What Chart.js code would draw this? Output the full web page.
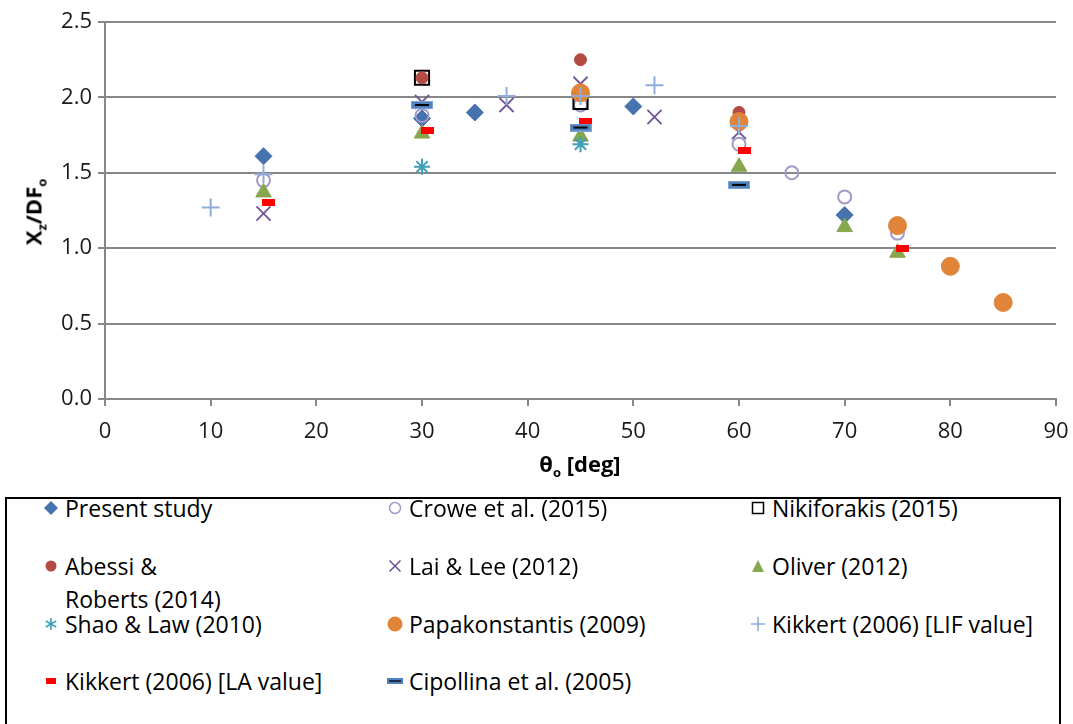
<!DOCTYPE html>
<html>
<head>
<meta charset="utf-8">
<script src="https://cdn.jsdelivr.net/npm/chart.js@4.4.1/dist/chart.umd.min.js"></script>
<style>
  body { margin: 0; background: #fff; font-family: "Open Sans", sans-serif; color: #000; }
  #wrap { position: relative; width: 1073px; height: 724px; overflow: hidden; }
  #grafica { position: absolute; left: 0; top: 0; }
  .titulo { position: absolute; font-weight: bold; font-size: 22px; white-space: nowrap; line-height: 1; }
  .titulo sub { font-size: 13px; vertical-align: -5px; }
  #tituloY { left: 35px; top: 212px; transform: translate(-50%, -50%) rotate(-90deg); }
  #tituloX { left: 580px; top: 465px; transform: translate(-50%, -50%); }
  #leyenda { position: absolute; left: 5px; top: 497px; width: 1056px; height: 260px; border: 2px solid #000; box-sizing: border-box; }
  .item { position: absolute; font-size: 23px; line-height: 33px; white-space: nowrap; }
  .item svg { position: absolute; top: 8px; }
</style>
</head>
<body>
<div id="wrap">
  <canvas id="grafica" width="1073" height="490"></canvas>
  <div class="titulo" id="tituloY">X<sub>z</sub>/DF<sub>o</sub></div>
  <div class="titulo" id="tituloX">θ<sub>o</sub> [deg]</div>
  <div id="leyenda"></div>
</div>
<script>
// Datos: ángulo θo [deg] y distancia adimensional Xz/DFo por estudio
const presentTheta = [15, 30, 35, 50, 60, 70];
const presentRatio = [1.61, 1.86, 1.90, 1.94, 1.84, 1.22];

const croweTheta = [15, 30, 45, 60, 65, 70, 75];
const croweRatio = [1.45, 1.88, 1.95, 1.69, 1.50, 1.34, 1.10];

const nikiTheta = [30, 45];
const nikiRatio = [2.13, 1.97];

const abessiTheta = [30, 45, 60];
const abessiRatio = [2.13, 2.25, 1.90];

const laiTheta = [15, 30, 38, 45, 52, 60];
const laiRatio = [1.23, 1.97, 1.95, 2.09, 1.87, 1.77];

const oliverTheta = [15, 30, 45, 60, 70, 75];
const oliverRatio = [1.37, 1.76, 1.74, 1.54, 1.14, 0.97];

const shaoTheta = [30, 45];
const shaoRatio = [1.54, 1.69];

const papaTheta = [45, 60, 75, 80, 85];
const papaRatio = [2.03, 1.84, 1.15, 0.88, 0.64];

const lifTheta = [10, 15, 38, 45, 52, 60];
const lifRatio = [1.27, 1.49, 2.01, 2.01, 2.08, 1.81];

const laTheta = [15.5, 30.5, 45.5, 60.5, 75.5];
const laRatio = [1.30, 1.78, 1.84, 1.65, 1.00];

const cipoTheta = [30, 45, 60];
const cipoRatio = [1.95, 1.80, 1.42];

const xTicks = [0, 10, 20, 30, 40, 50, 60, 70, 80, 90];
const yTicks = [0.0, 0.5, 1.0, 1.5, 2.0, 2.5];

// Marcadores tipo barra (no existen en Chart.js), dibujados en un canvas pequeño
function barraRoja() {
  const c = document.createElement('canvas');
  c.width = 13; c.height = 7;
  const g = c.getContext('2d');
  g.fillStyle = '#ff0000';
  g.fillRect(0, 0, 13, 7);
  return c;
}
function barraAzul() {
  const c = document.createElement('canvas');
  c.width = 22; c.height = 8;
  const g = c.getContext('2d');
  g.fillStyle = '#4f81bd';
  g.fillRect(0, 0, 22, 8);
  g.strokeStyle = '#7fa3d3';
  g.lineWidth = 1;
  g.strokeRect(0.5, 0.5, 21, 7);
  g.fillStyle = '#000';
  g.fillRect(4, 3, 14, 2);
  return c;
}

const pares = (xs, ys) => xs.map((x, i) => ({x: x, y: ys[i]}));

const series = [
  {label: 'Present study', data: pares(presentTheta, presentRatio), pointStyle: 'rectRot', pointRadius: 8.5,
   backgroundColor: '#4673ae', borderColor: '#4673ae', borderWidth: 1},
  {label: 'Crowe et al. (2015)', data: pares(croweTheta, croweRatio), pointStyle: 'circle', pointRadius: 6.5,
   backgroundColor: 'rgba(0,0,0,0)', borderColor: '#a399c9', borderWidth: 2},
  {label: 'Nikiforakis (2015)', data: pares(nikiTheta, nikiRatio), pointStyle: 'rect', pointRadius: 10,
   backgroundColor: 'rgba(0,0,0,0)', borderColor: '#000', borderWidth: 2},
  {label: 'Abessi & Roberts (2014)', data: pares(abessiTheta, abessiRatio), pointStyle: 'circle', pointRadius: 6,
   backgroundColor: '#b34a44', borderColor: '#b34a44', borderWidth: 1},
  {label: 'Lai & Lee (2012)', data: pares(laiTheta, laiRatio), pointStyle: 'crossRot', pointRadius: 10,
   backgroundColor: '#6f5597', borderColor: '#6f5597', borderWidth: 1.8},
  {label: 'Oliver (2012)', data: pares(oliverTheta, oliverRatio), pointStyle: 'triangle', pointRadius: 9,
   backgroundColor: '#87a74d', borderColor: '#87a74d', borderWidth: 1},
  {label: 'Shao & Law (2010)', data: pares(shaoTheta, shaoRatio), pointStyle: 'star', pointRadius: 8,
   backgroundColor: '#3fa0b8', borderColor: '#3fa0b8', borderWidth: 2},
  {label: 'Papakonstantis (2009)', data: pares(papaTheta, papaRatio), pointStyle: 'circle', pointRadius: 9,
   backgroundColor: '#df8438', borderColor: '#df8438', borderWidth: 1},
  {label: 'Kikkert (2006) [LIF value]', data: pares(lifTheta, lifRatio), pointStyle: 'cross', pointRadius: 9,
   backgroundColor: '#8eaddb', borderColor: '#8eaddb', borderWidth: 2},
  {label: 'Kikkert (2006) [LA value]', data: pares(laTheta, laRatio), pointStyle: barraRoja(), pointRadius: 7,
   backgroundColor: '#ff0000', borderColor: '#ff0000', borderWidth: 0},
  {label: 'Cipollina et al. (2005)', data: pares(cipoTheta, cipoRatio), pointStyle: barraAzul(), pointRadius: 8,
   backgroundColor: '#4f81bd', borderColor: '#4f81bd', borderWidth: 0}
];

// Las series posteriores se dibujan encima
series.forEach((s, i) => { s.order = series.length - i; s.showLine = false; s.pointHoverRadius = s.pointRadius; });

const fuenteEje = {family: 'Open Sans', size: 22};
const gris = '#878787';

const ctx = document.getElementById('grafica').getContext('2d');
new Chart(ctx, {
  type: 'scatter',
  data: {datasets: series},
  options: {
    responsive: false,
    animation: false,
    layout: {padding: {left: 5, right: 17, top: 22, bottom: 0}},
    plugins: {legend: {display: false}, tooltip: {enabled: false}},
    scales: {
      x: {
        type: 'linear', min: 0, max: 90,
        afterBuildTicks: s => { s.ticks = xTicks.map(v => ({value: v})); },
        // alto fijo y sin relleno extra por las etiquetas de los extremos
        afterFit: s => { s.height = 91; s.paddingLeft = 0; s.paddingRight = 0; },
        ticks: {font: fuenteEje, color: '#1a1a1a', padding: 13, callback: v => String(v)},
        grid: {drawOnChartArea: false, tickLength: 7, color: gris, lineWidth: 2},
        border: {color: gris, width: 2}
      },
      y: {
        min: 0, max: 2.5,
        afterBuildTicks: s => { s.ticks = yTicks.map(v => ({value: v})); },
        afterFit: s => { s.width = 100; s.paddingTop = 0; s.paddingBottom = 0; },
        ticks: {font: fuenteEje, color: '#1a1a1a', padding: 6, callback: v => v.toFixed(1)},
        grid: {color: gris, lineWidth: 2, tickLength: 7},
        border: {color: gris, width: 2}
      }
    }
  }
});

// Leyenda en tres columnas
const iconos = [
  '<polygon points="8,1 15,8 8,15 1,8" fill="#4673ae"/>',
  '<circle cx="8" cy="8" r="5.5" fill="none" stroke="#a399c9" stroke-width="1.5"/>',
  '<rect x="2.5" y="2.5" width="11" height="11" fill="none" stroke="#000" stroke-width="1.5"/>',
  '<circle cx="8" cy="8" r="5.5" fill="#b34a44"/>',
  '<path d="M2.5 2.5 L13.5 13.5 M13.5 2.5 L2.5 13.5" stroke="#6f5597" stroke-width="1.6"/>',
  '<polygon points="8,2 14,14 2,14" fill="#87a74d"/>',
  '<path d="M8 2 L8 14 M2.8 5 L13.2 11 M13.2 5 L2.8 11" stroke="#3fa0b8" stroke-width="1.6"/>',
  '<circle cx="8" cy="8" r="7.5" fill="#df8438"/>',
  '<path d="M8 1 L8 15 M1 8 L15 8" stroke="#8eaddb" stroke-width="1.6"/>',
  '<rect x="3" y="5" width="10" height="6" fill="#ff0000"/>',
  '<rect x="0" y="5" width="16" height="6" fill="#4f81bd"/><rect x="2" y="7" width="12" height="2" fill="#1f2f4a"/>'
];
const textos = ['Present study', 'Crowe et al. (2015)', 'Nikiforakis (2015)',
  'Abessi &amp;<br>Roberts (2014)', 'Lai &amp; Lee (2012)', 'Oliver (2012)',
  'Shao &amp; Law (2010)', 'Papakonstantis (2009)', 'Kikkert (2006) [LIF value]',
  'Kikkert (2006) [LA value]', 'Cipollina et al. (2005)'];
const colX = [58, 402, 765];
const filaY = [-7, 51, 109, 166];
const leyenda = document.getElementById('leyenda');
textos.forEach((t, i) => {
  const d = document.createElement('div');
  d.className = 'item';
  d.style.left = colX[i % 3] + 'px';
  d.style.top = filaY[Math.floor(i / 3)] + 'px';
  d.innerHTML = '<svg width="16" height="16" style="left:-22px">' + iconos[i] + '</svg>' + t;
  leyenda.appendChild(d);
});
</script>
</body>
</html>
